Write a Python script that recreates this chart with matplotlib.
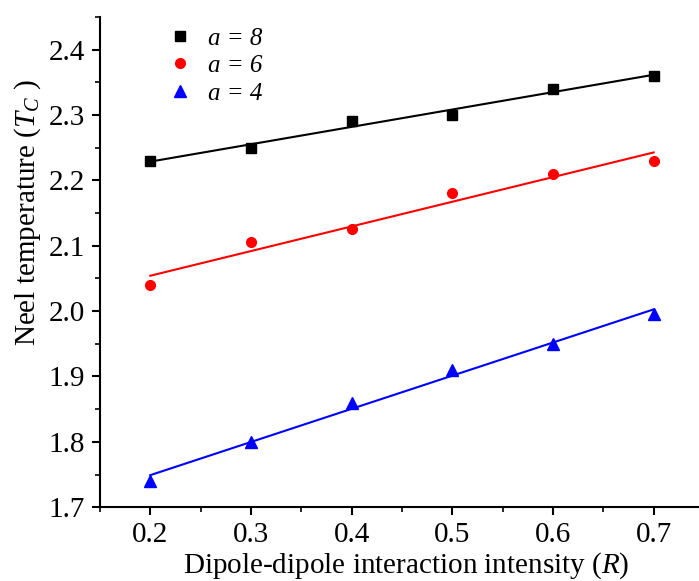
import numpy as np
import matplotlib
matplotlib.use("Agg")
import matplotlib.pyplot as plt
from matplotlib.ticker import MultipleLocator

plt.rcParams['font.family'] = ['Liberation Serif', 'DejaVu Serif']
plt.rcParams['mathtext.fontset'] = 'custom'
plt.rcParams['mathtext.rm'] = 'Liberation Serif'
plt.rcParams['mathtext.it'] = 'Liberation Serif:italic'

R = [0.2, 0.3, 0.4, 0.5, 0.6, 0.7]
tc_a8 = [2.23, 2.25, 2.29, 2.30, 2.34, 2.36]
tc_a6 = [2.04, 2.105, 2.125, 2.18, 2.21, 2.23]
tc_a4 = [1.74, 1.80, 1.86, 1.91, 1.95, 1.995]
labels = ["a = 8", "a = 6", "a = 4"]
xticks = [0.2, 0.3, 0.4, 0.5, 0.6, 0.7]
yticks = [1.7, 1.8, 1.9, 2.0, 2.1, 2.2, 2.3, 2.4]

fig = plt.figure(figsize=(6.99, 5.81), dpi=100)
ax = fig.add_axes([0.143, 0.127, 0.857, 0.844])

series = [(tc_a8, 'black', 's', 7), (tc_a6, 'red', 'o', 7), (tc_a4, 'blue', '^', 8)]
x = np.array(R)
handles = []
for (vals, c, m, ms), lab in zip(series, labels):
    h, = ax.plot(R, vals, linestyle='none', marker=m, color=c, markersize=ms, label=lab)
    handles.append(h)
    k, b = np.polyfit(x, np.array(vals), 1)
    ax.plot([x[0], x[-1]], [k * x[0] + b, k * x[-1] + b], color=c, lw=1.5)

ax.set_xlim(0.15, 0.745)
ax.set_ylim(1.7, 2.45)
ax.set_xticks(xticks)
ax.set_yticks(yticks)
ax.xaxis.set_minor_locator(MultipleLocator(0.05))
ax.yaxis.set_minor_locator(MultipleLocator(0.05))
for s in ['top', 'right']:
    ax.spines[s].set_visible(False)
for s in ['left', 'bottom']:
    ax.spines[s].set_linewidth(1.5)
ax.tick_params(which='major', direction='out', length=6, width=1.5, labelsize=21, pad=5)
ax.tick_params(which='minor', direction='out', length=3.5, width=1.2)

ax.set_xlabel('Dipole-dipole interaction intensity ($\\mathit{R}$)', fontsize=21)
ax.set_ylabel('Neel temperature ($\\mathit{T_C}$ )', fontsize=21)
ax.xaxis.set_label_coords(0.512, -0.088)
ax.yaxis.set_label_coords(-0.095, 0.6)

leg = ax.legend(handles=handles, loc='upper left', bbox_to_anchor=(0.065, 1.025),
                frameon=False, prop={'style': 'italic', 'size': 18},
                handletextpad=0.35, labelspacing=0.2, handlelength=1.5)

fig.savefig('out.png', dpi=100)
